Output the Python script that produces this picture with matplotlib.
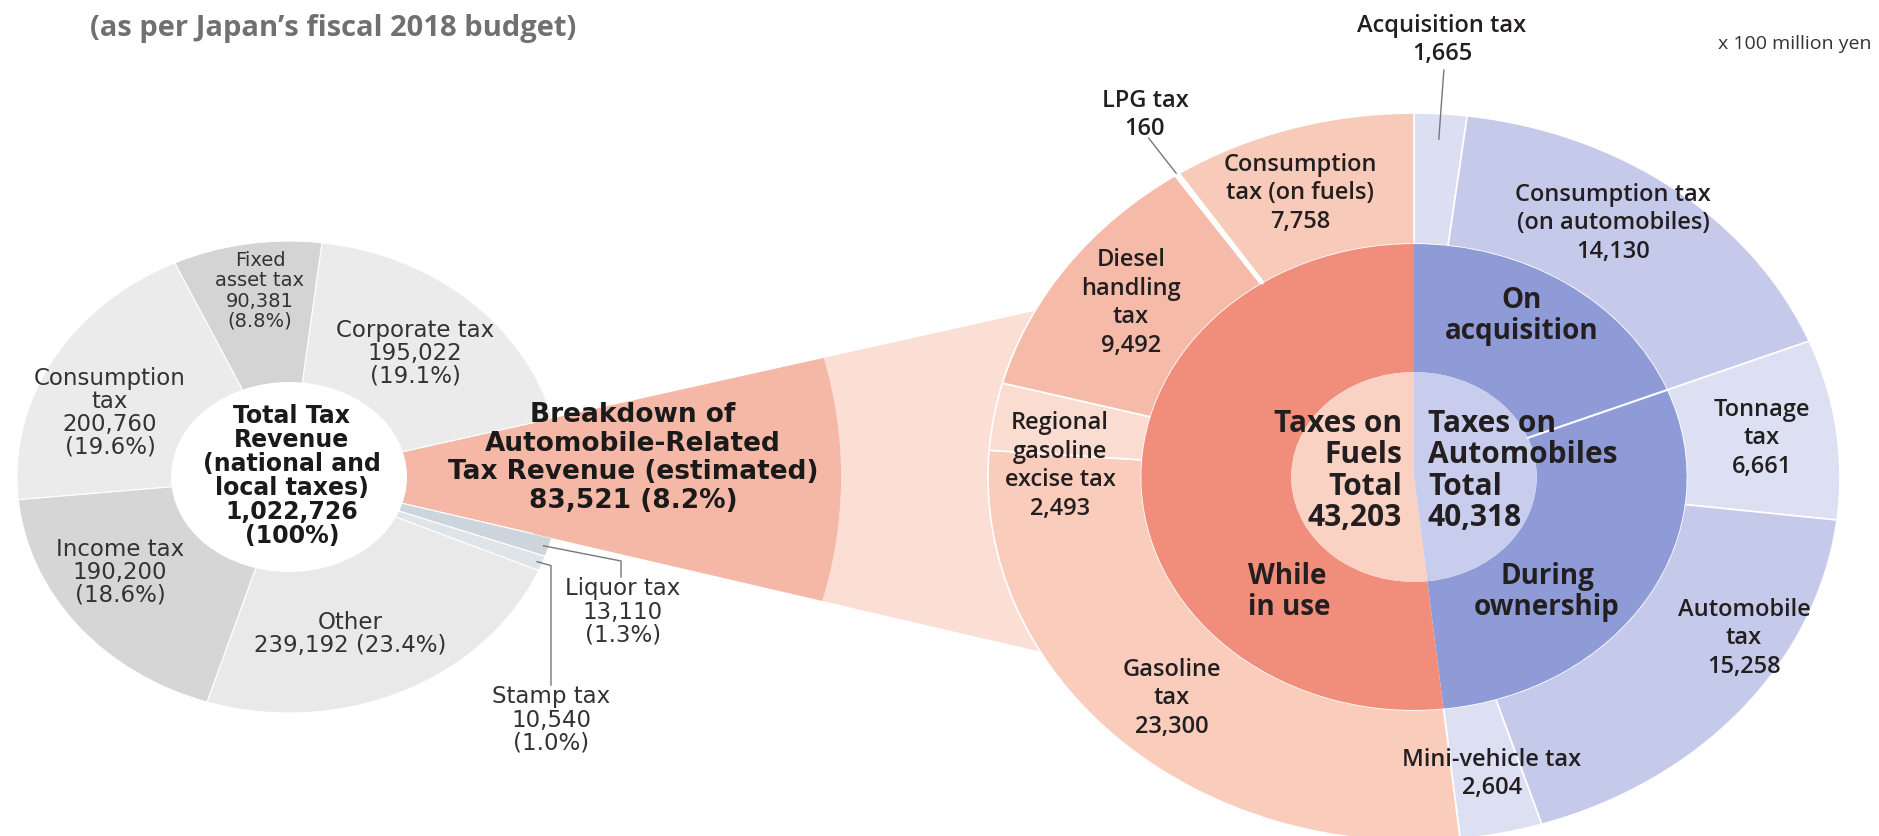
import matplotlib.pyplot as plt
from matplotlib.patches import Ellipse, Wedge
import numpy as np

W, H = 1879, 837

# total tax revenue by source, x 100 million yen (FY2018 budget)
total_names = ["Automobile-related", "Corporate tax", "Fixed asset tax", "Consumption tax",
               "Income tax", "Other", "Stamp tax", "Liquor tax"]
total_values = [83521, 195022, 90381, 200760, 190200, 239192, 10540, 13110]

# automobile-related taxes, clockwise from the top
auto_names = ["Acquisition tax", "Consumption tax\n(on automobiles)", "Tonnage\ntax",
              "Automobile\ntax", "Mini-vehicle tax", "Gasoline\ntax",
              "Regional\ngasoline\nexcise tax", "Diesel\nhandling\ntax", "LPG tax",
              "Consumption\ntax (on fuels)"]
auto_values = [1665, 14130, 6661, 15258, 2604, 23300, 2493, 9492, 160, 7758]
stage_names = ["On\nacquisition", "During\nownership", "While\nin use"]
group_names = ["Taxes on\nAutomobiles\nTotal", "Taxes on\nFuels\nTotal"]

acq_values = auto_values[0:2]
own_values = auto_values[2:5]
fuel_values = auto_values[5:]
stage_values = [sum(acq_values), sum(own_values), sum(fuel_values)]
group_values = [sum(acq_values) + sum(own_values), sum(fuel_values)]
grand_total = sum(total_values)

plt.rcParams["font.family"] = ["Open Sans", "DejaVu Sans"]

fig = plt.figure(figsize=(W / 100, H / 100), dpi=100)


def frame(cx, cy, rx, ry):
    # full-figure axes where (0, 0) sits at pixel (cx, cy) and 1 unit = rx / ry pixels
    ax = fig.add_axes([0, 0, 1, 1])
    ax.patch.set_visible(False)
    return ax, (-cx / rx, (W - cx) / rx), ((cy - H) / ry, cy / ry)


def fix(ax, xl, yl):
    ax.set_aspect("auto")
    ax.set_xlim(*xl)
    ax.set_ylim(*yl)
    ax.axis("off")


# ---- left donut ----
axl, xl, yl = frame(289, 478, 272, 236)
grey_cols = ["#f5b8a6", "#ebebeb", "#d4d4d4", "#ebebeb", "#d6d6d6", "#e9e9e9", "#dfe4e9", "#cdd5dc"]
wl, _ = axl.pie(total_values, radius=1, startangle=-15, counterclock=True, colors=grey_cols,
                wedgeprops=dict(edgecolor="white", linewidth=0.8))
th1, th2 = wl[0].theta1, wl[0].theta2
# the automobile slice fanned out towards the breakdown on the right
axl.add_patch(Wedge((0, 0), 3.0, th1, th2, width=3.0 - 2.03, facecolor="#fbdfd4", lw=0, zorder=0))
axl.add_patch(Wedge((0, 0), 2.03, th1, th2, width=1.1, facecolor="#f5b8a6", lw=0, zorder=1))
axl.add_patch(Ellipse((0, 0), 2 * 118 / 272, 2 * 95 / 236, facecolor="white", lw=0, zorder=3))
fix(axl, xl, yl)
liq_mid = np.deg2rad((wl[7].theta1 + wl[7].theta2) / 2)
stp_mid = np.deg2rad((wl[6].theta1 + wl[6].theta2) / 2)

# ---- right donut ----
axr, xr, yr = frame(1414, 478, 426, 364)
outer_cols = ["#dcdff2", "#c5c9ea", "#dde0f3", "#c6caea", "#dde0f3",
              "#f9ccbc", "#fbdcd0", "#f5bba8", "#ffffff", "#f8cab9"]
wo, _ = axr.pie(auto_values, radius=1, startangle=90, counterclock=False, colors=outer_cols,
                wedgeprops=dict(width=0.36, edgecolor="white", linewidth=1.2))
axr.pie(stage_values, radius=0.64, startangle=90, counterclock=False,
        colors=["#8f9bd6", "#8f9bd6", "#f18d7b"],
        wedgeprops=dict(width=0.352, edgecolor="none", linewidth=0))
axr.pie(group_values, radius=0.288, startangle=90, counterclock=False,
        colors=["#c8cdee", "#f9d2c3"], wedgeprops=dict(edgecolor="none", linewidth=0))
# white line between acquisition and ownership stages
b = np.deg2rad(90 - 360 * stage_values[0] / sum(stage_values))
axr.plot([0.288 * np.cos(b), 0.64 * np.cos(b)], [0.288 * np.sin(b), 0.64 * np.sin(b)],
         color="white", lw=1.5)
# leaders for acquisition tax and LPG tax
for i, r0, r1 in [(0, 0.93, 1.12), (8, 1.0, 1.12)]:
    m = np.deg2rad((wo[i].theta1 + wo[i].theta2) / 2)
    axr.plot([r0 * np.cos(m), r1 * np.cos(m)], [r0 * np.sin(m), r1 * np.sin(m)],
             color="#777777", lw=1)
m = np.deg2rad((wo[8].theta1 + wo[8].theta2) / 2)
axr.plot([0.64 * np.cos(m), np.cos(m)], [0.64 * np.sin(m), np.sin(m)], color="white", lw=1.5)
fix(axr, xr, yr)

# ---- text layer in pixel coordinates ----
ax = fig.add_axes([0, 0, 1, 1])
ax.patch.set_visible(False)
ax.set_xlim(0, W)
ax.set_ylim(H, 0)
ax.axis("off")

# liquor / stamp leaders drawn in pixels from the slice edge
lx = 289 + 272 * 0.98 * np.cos(liq_mid)
ly = 478 - 236 * 0.98 * np.sin(liq_mid)
ax.plot([lx, 621, 621], [ly, 562, 578], color="#777777", lw=1)
sx = 289 + 272 * 0.98 * np.cos(stp_mid)
sy = 478 - 236 * 0.98 * np.sin(stp_mid)
ax.plot([sx, 551, 551], [sy, sy + 4, 686], color="#777777", lw=1)


def pct(v):
    return f"{v:,}\n({100 * v / grand_total:.1f}%)"


lkw = dict(ha="center", va="center", fontsize=16.5, color="#333333", linespacing=1.0,
           family="DejaVu Sans")
ax.text(260, 291, "Fixed\nasset tax\n" + pct(total_values[2]), **dict(lkw, fontsize=14, linespacing=1.08))
ax.text(415, 353, "Corporate tax\n" + pct(total_values[1]), **lkw)
ax.text(110, 413, "Consumption\ntax\n" + pct(total_values[3]), **lkw)
ax.text(120, 572, "Income tax\n" + pct(total_values[4]), **lkw)
ax.text(350, 634, f"Other\n{total_values[5]:,} ({100 * total_values[5] / grand_total:.1f}%)", **lkw)
ax.text(623, 612, "Liquor tax\n" + pct(total_values[7]), **lkw)
ax.text(551, 720, "Stamp tax\n" + pct(total_values[6]), **lkw)
ax.text(292, 476, f"Total Tax\nRevenue\n(national and\nlocal taxes)\n{grand_total:,}\n(100%)",
        ha="center", va="center", fontsize=17, fontweight="bold", color="#1a1a1a",
        linespacing=1.0, family="DejaVu Sans")
ax.text(633, 458, "Breakdown of\nAutomobile-Related\nTax Revenue (estimated)\n"
        f"{total_values[0]:,} ({100 * total_values[0] / grand_total:.1f}%)",
        ha="center", va="center", fontsize=19, fontweight="bold", color="#1a1a1a",
        linespacing=1.12, family="DejaVu Sans")

ax.text(90, 28, "(as per Japan\u2019s fiscal 2018 budget)", ha="left", va="center",
        fontsize=21, fontweight="bold", color="#707070")
ax.text(1872, 44, "x 100 million yen", ha="right", va="center", fontsize=14, color="#333333")

rkw = dict(ha="center", va="center", fontsize=17, fontweight="semibold", color="#231f20",
           linespacing=1.25)
right_pos = [(1442, 40), (1613, 223), (1762, 438), (1744, 638), (1492, 774),
             (1172, 698), (1060, 466), (1131, 303), (1145, 115), (1300, 193)]
for name, v, (x, y) in zip(auto_names, auto_values, right_pos):
    ax.text(x, y, f"{name}\n{v:,}", **rkw)

bkw = dict(fontsize=21.5, fontweight="bold", color="#231f20", linespacing=1.06, va="center")
ax.text(1522, 316, stage_names[0], ha="center", **dict(bkw, fontsize=20))
ax.text(1547, 592, stage_names[1], ha="center", **dict(bkw, fontsize=20))
ax.text(1248, 592, stage_names[2], ha="left", **dict(bkw, fontsize=20))
ax.text(1428, 471, f"{group_names[0]}\n{group_values[0]:,}", ha="left", **bkw)
ax.text(1402, 471, f"{group_names[1]}\n{group_values[1]:,}", ha="right", **bkw)

fig.savefig("out.png", dpi=100)
